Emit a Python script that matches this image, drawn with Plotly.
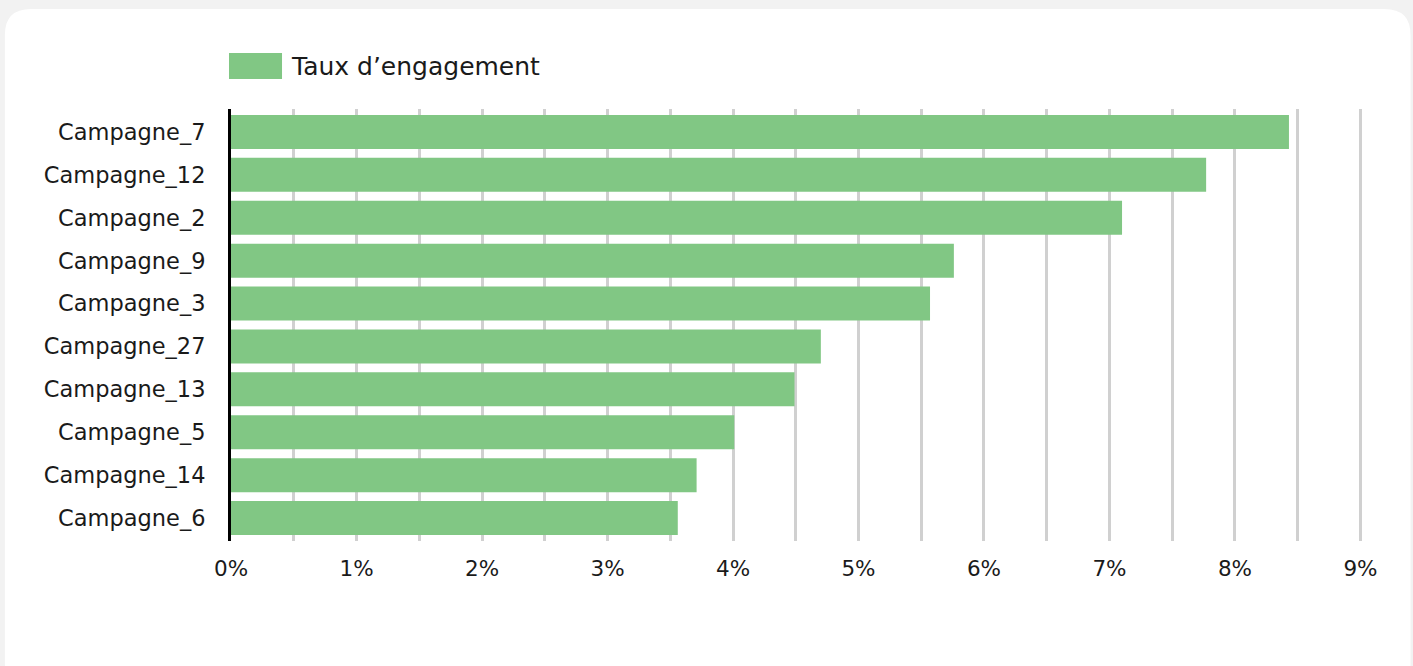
import plotly.graph_objects as go

# ---- data ----
campaigns = ["Campagne_7", "Campagne_12", "Campagne_2", "Campagne_9", "Campagne_3",
             "Campagne_27", "Campagne_13", "Campagne_5", "Campagne_14", "Campagne_6"]
engagement_pct = [8.43, 7.77, 7.10, 5.76, 5.57, 4.70, 4.49, 4.01, 3.71, 3.56]
series_name = "Taux d\u2019engagement"
x_tick_values = [0, 1, 2, 3, 4, 5, 6, 7, 8, 9]
x_tick_labels = ["0%", "1%", "2%", "3%", "4%", "5%", "6%", "7%", "8%", "9%"]

# ---- layout geometry (pixels) ----
W, H = 1413, 666
X_MAX = 9.02
L, T, B = 231, 109, 541
R = 1360 + (X_MAX - 9) * (1360 - 231) / 9
FONT = "DejaVu Sans"
TEXT = "#1a1a1a"
GREEN = "#81c784"
GRID = "#d0d0d0"


def px(x):
    return (x - L) / (R - L)


def py(y):
    return (B - y) / (B - T)


fig = go.Figure()
fig.add_trace(go.Bar(
    y=campaigns, x=engagement_pct, orientation="h", name=series_name,
    marker=dict(color=GREEN, line=dict(width=0)), showlegend=False,
))

# rounded white card
cx0, cy0, cx1, cy1, r = 5, 9, 1410, 690, 26
path = (f"M {px(cx0 + r)},{py(cy0)} L {px(cx1 - r)},{py(cy0)} "
        f"Q {px(cx1)},{py(cy0)} {px(cx1)},{py(cy0 + r)} "
        f"L {px(cx1)},{py(cy1 - r)} Q {px(cx1)},{py(cy1)} {px(cx1 - r)},{py(cy1)} "
        f"L {px(cx0 + r)},{py(cy1)} Q {px(cx0)},{py(cy1)} {px(cx0)},{py(cy1 - r)} "
        f"L {px(cx0)},{py(cy0 + r)} Q {px(cx0)},{py(cy0)} {px(cx0 + r)},{py(cy0)} Z")
fig.add_shape(type="path", path=path, xref="paper", yref="paper",
              fillcolor="white", line=dict(width=0), layer="below")

# legend swatch + label
fig.add_shape(type="rect", xref="paper", yref="paper",
              x0=px(229), x1=px(282), y0=py(79), y1=py(53),
              fillcolor=GREEN, line=dict(width=0))
fig.add_annotation(x=px(289), y=py(66), xref="paper", yref="paper",
                   text=series_name, showarrow=False, xanchor="left", yanchor="middle",
                   font=dict(family=FONT, size=25, color=TEXT))

fig.update_layout(
    width=W, height=H,
    margin=dict(l=L, r=W - R, t=T, b=H - B, pad=0),
    paper_bgcolor="#f2f2f2", plot_bgcolor="rgba(0,0,0,0)",
    bargap=0.2075,
    font=dict(family=FONT, size=22, color=TEXT),
    xaxis=dict(
        range=[0, X_MAX], tickvals=x_tick_values, ticktext=x_tick_labels,
        showgrid=True, gridcolor=GRID, gridwidth=3,
        minor=dict(dtick=0.5, showgrid=True, gridcolor=GRID, gridwidth=3),
        zeroline=False, showline=False, ticks="", ticklabelstandoff=12,
        tickfont=dict(family=FONT, size=21.5, color=TEXT), fixedrange=True,
    ),
    yaxis=dict(
        categoryorder="array", categoryarray=campaigns,
        range=[9.535, -0.535],
        showgrid=False, zeroline=False, showline=True, linecolor="black", linewidth=3,
        ticks="", ticklabelstandoff=18,
        tickfont=dict(family=FONT, size=22.5, color=TEXT), fixedrange=True,
    ),
)

fig.write_html(
    "out.html",
    config={"displayModeBar": False},
    post_script="document.body.style.margin='0';document.body.style.background='#f2f2f2';",
)
